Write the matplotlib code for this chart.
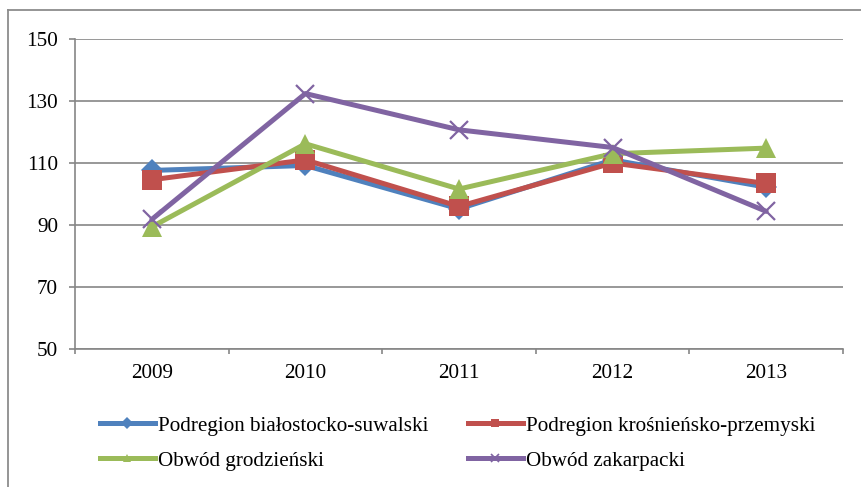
import matplotlib
matplotlib.use("Agg")
import matplotlib.pyplot as plt
from matplotlib.lines import Line2D
import numpy as np

plt.rcParams['font.family'] = ['Liberation Serif', 'DejaVu Serif']

years = ['2009', '2010', '2011', '2012', '2013']
bialostocko = [107.6, 109.2, 95.2, 111.0, 102.2]
krosnienko = [104.6, 111.0, 96.0, 110.0, 103.4]
grodzienski = [89.4, 116.2, 101.6, 113.0, 114.8]
zakarpacki = [91.8, 132.4, 120.7, 115.0, 94.4]

labels = ['Podregion białostocko-suwalski', 'Podregion krośnieńsko-przemyski',
          'Obwód grodzieński', 'Obwód zakarpacki']
colors = ['#4F81BD', '#C0504D', '#9BBB59', '#8064A2']
yticks = [50, 70, 90, 110, 130, 150]

W, H = 861, 487
fig = plt.figure(figsize=(W / 100, H / 100), dpi=100)
ax = fig.add_axes([75 / W, 1 - 349 / H, (843 - 75) / W, (349 - 39) / H])

x = np.arange(len(years))
series = [bialostocko, krosnienko, grodzienski, zakarpacki]
markers = ['D', 's', '^', 'x']
msizes = [11.5, 14.5, 15, 13]
lw = 3.6
for vals, c, m, ms in zip(series, colors, markers, msizes):
    kw = dict(color=c, lw=lw, marker=m, markersize=ms, solid_joinstyle='round',
              solid_capstyle='round')
    if m == 'x':
        kw.update(markeredgewidth=1.6)
    else:
        kw.update(markeredgewidth=0)
    ax.plot(x, vals, **kw)

ax.set_xlim(-0.5, len(years) - 0.5)
ax.set_ylim(50, 150)
ax.set_yticks(yticks)
ax.set_yticklabels([str(v) for v in yticks])
ax.set_xticks(x)
ax.set_xticklabels(years)
ax.set_xticks(np.arange(-0.5, len(years), 1.0), minor=True)

gray = '#868686'
fs = 15.2
ax.yaxis.grid(True, color=gray, lw=1.2)
ax.set_axisbelow(True)
for s in ['top', 'right']:
    ax.spines[s].set_visible(False)
for s in ['left', 'bottom']:
    ax.spines[s].set_color(gray)
    ax.spines[s].set_linewidth(1.2)
ax.tick_params(axis='y', length=4.3, width=1.2, color=gray, pad=8, labelsize=fs)
ax.tick_params(axis='x', which='major', length=0, pad=11, labelsize=fs)
ax.tick_params(axis='x', which='minor', length=3.6, width=1.2, color=gray)

# legend
handles = []
for c, m in zip(colors, markers):
    if m == 'x':
        h = Line2D([], [], color=c, lw=lw, marker=m, markersize=6, markeredgewidth=1.2)
    else:
        h = Line2D([], [], color=c, lw=lw, marker=m, markersize=6, markeredgewidth=0)
    handles.append(h)
order = [0, 2, 1, 3]
leg = fig.legend([handles[i] for i in order], [labels[i] for i in order],
                 ncol=2, loc='upper left',
                 bbox_to_anchor=(100 / W, 1 - 416 / H), frameon=False,
                 fontsize=fs, handlelength=2.6, handletextpad=0.15,
                 columnspacing=1.85, labelspacing=0.72, borderpad=0, borderaxespad=0)

# outer frame (top and left edges visible)
fig.add_artist(Line2D([8 / W, 1.0], [1 - 10 / H, 1 - 10 / H], color='#8c8c8c', lw=1.3,
                      transform=fig.transFigure))
fig.add_artist(Line2D([8 / W, 8 / W], [1 - 10 / H, 0.0], color='#8c8c8c', lw=1.3,
                      transform=fig.transFigure))

fig.savefig('out.png', dpi=100)
